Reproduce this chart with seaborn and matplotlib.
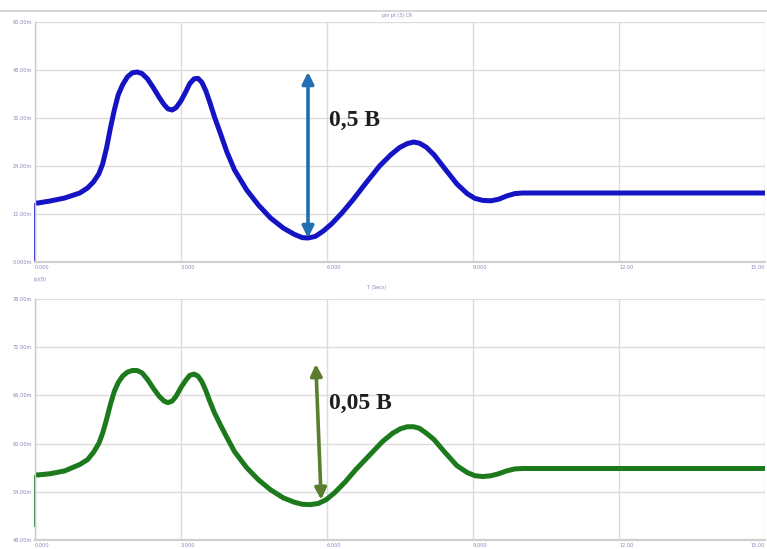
import numpy as np
import pandas as pd
import matplotlib
matplotlib.use("Agg")
import matplotlib.pyplot as plt
import seaborn as sns

# ---- data -------------------------------------------------------------
# upper trace: time (s) and level (m-units); first point is the start-up value
t_top = [0.0, 0.0, 0.06, 0.31, 0.61, 0.92, 1.08, 1.20, 1.31, 1.39, 1.47, 1.55,
         1.63, 1.71, 1.80, 1.90, 2.00, 2.10, 2.20, 2.31, 2.43, 2.55, 2.65, 2.73,
         2.82, 2.90, 3.00, 3.10, 3.18, 3.27, 3.35, 3.43, 3.51, 3.59, 3.69, 3.82,
         3.94, 4.10, 4.35, 4.59, 4.84, 5.10, 5.33, 5.49, 5.61, 5.76, 5.92, 6.10,
         6.31, 6.53, 6.80, 7.08, 7.31, 7.49, 7.65, 7.78, 7.90, 8.04, 8.20, 8.41,
         8.67, 8.88, 9.04, 9.20, 9.37, 9.53, 9.69, 9.86, 10.02, 15.0]
v_top = [0.0, 14.75, 14.75, 15.25, 16.0, 17.25, 18.5, 20.0, 22.0, 24.5, 28.5, 33.5,
         38.0, 41.8, 44.3, 46.3, 47.3, 47.5, 47.1, 45.8, 43.6, 41.2, 39.4, 38.3,
         38.0, 38.6, 40.3, 42.6, 44.6, 45.8, 45.9, 44.9, 42.8, 40.0, 36.2, 31.8,
         27.6, 23.0, 18.0, 14.25, 11.0, 8.5, 6.9, 6.1, 6.0, 6.4, 7.7, 9.6,
         12.3, 15.5, 19.75, 24.0, 26.8, 28.6, 29.6, 30.0, 29.7, 28.7, 26.8, 23.5,
         19.5, 17.1, 15.9, 15.4, 15.3, 15.7, 16.5, 17.1, 17.25, 17.25]

# lower trace
t_bot = [0.0, 0.0, 0.06, 0.31, 0.61, 0.92, 1.08, 1.20, 1.31, 1.39, 1.47, 1.55,
         1.63, 1.71, 1.80, 1.90, 2.00, 2.10, 2.20, 2.31, 2.43, 2.55, 2.65, 2.73,
         2.82, 2.90, 3.00, 3.10, 3.18, 3.27, 3.35, 3.43, 3.51, 3.59, 3.69, 3.82,
         3.94, 4.10, 4.35, 4.59, 4.84, 5.10, 5.33, 5.49, 5.65, 5.82, 5.98, 6.16,
         6.37, 6.59, 6.88, 7.14, 7.35, 7.51, 7.65, 7.78, 7.90, 8.04, 8.20, 8.41,
         8.67, 8.88, 9.04, 9.20, 9.37, 9.53, 9.69, 9.86, 10.02, 15.0]
v_bot = [49.6, 56.1, 56.1, 56.25, 56.6, 57.4, 58.0, 58.9, 60.0, 61.3, 63.0, 64.9,
         66.5, 67.6, 68.4, 68.9, 69.1, 69.1, 68.8, 68.0, 66.9, 65.9, 65.3, 65.1,
         65.3, 65.9, 67.0, 67.9, 68.5, 68.65, 68.4, 67.7, 66.6, 65.3, 63.8, 62.2,
         60.8, 59.0, 57.0, 55.5, 54.25, 53.25, 52.7, 52.45, 52.4, 52.55, 53.0, 53.9,
         55.2, 56.75, 58.6, 60.25, 61.3, 61.85, 62.1, 62.1, 61.9, 61.3, 60.5, 59.0,
         57.25, 56.4, 56.0, 55.9, 56.0, 56.25, 56.6, 56.85, 56.9, 56.9]

x_ticks = [0, 3, 6, 9, 12, 15]
x_tick_labels = ["0.000", "3.000", "6.000", "9.000", "12.00", "15.00"]
y_ticks_top = [0, 12, 24, 36, 48, 60]
y_labels_top = ["0.000m", "12.00m", "24.00m", "36.00m", "48.00m", "60.00m"]
y_ticks_bot = [48, 54, 60, 66, 72, 78]
y_labels_bot = ["48.00m", "54.00m", "60.00m", "66.00m", "72.00m", "78.00m"]

# swing markers: (t_start, v_start, t_end, v_end) and label
swing_top = (5.61, 47.5, 5.61, 6.0)
swing_top_label = "0,5 В"
swing_bot = (5.77, 69.9, 5.88, 53.0)
swing_bot_label = "0,05 В"

# ---- figure -----------------------------------------------------------
sns.set_style("white")
W, H = 767, 549
fig = plt.figure(figsize=(W / 100, H / 100), dpi=100)
fig.patch.set_facecolor("white")

def px_axes(x0, y0, x1, y1):
    return fig.add_axes([x0 / W, 1 - y1 / H, (x1 - x0) / W, (y1 - y0) / H])

ax1 = px_axes(35, 22, 765, 262)
ax2 = px_axes(35, 299, 765, 540)

tick_col = "#8a86b8"
grid_col = "#dcdcdc"

def style(ax, yt, yl, ylim):
    ax.set_xlim(0, 15)
    ax.set_ylim(*ylim)
    ax.set_xticks(x_ticks)
    ax.set_xticklabels(x_tick_labels)
    ax.set_yticks(yt)
    ax.set_yticklabels(yl)
    ax.grid(True, color=grid_col, lw=1.0)
    ax.tick_params(axis="both", length=0, labelsize=3.6, colors=tick_col, pad=2)
    labels = ax.get_xticklabels()
    for lbl in labels:
        lbl.set_horizontalalignment("left")
    labels[-1].set_horizontalalignment("right")
    for s in ["top", "right"]:
        ax.spines[s].set_visible(False)
    ax.spines["bottom"].set_color("#cfcfcf")
    ax.spines["bottom"].set_linewidth(1.6)
    ax.spines["left"].set_color("#c8c8d8")
    ax.spines["left"].set_linewidth(1.0)
    ax.set_xlabel("")
    ax.set_ylabel("")

def trace(ax, t, v, color):
    df = pd.DataFrame({"t": t[1:], "v": v[1:]})
    sns.lineplot(data=df, x="t", y="v", ax=ax, estimator=None, sort=False,
                 color=color, lw=3.6, solid_capstyle="round",
                 solid_joinstyle="round")
    # thin start-up edge from the initial value
    ax.vlines(t[0], min(v[0], v[1]), max(v[0], v[1]), color=color, lw=1.3,
              clip_on=False)

trace(ax1, t_top, v_top, "#1414c4")
trace(ax2, t_bot, v_bot, "#1c7a1c")

style(ax1, y_ticks_top, y_labels_top, (0, 60))
style(ax2, y_ticks_bot, y_labels_bot, (48, 78))

# swing arrows with labels
def swing(ax, seg, label, color, text_xy):
    t0, v0, t1, v1 = seg
    ax.annotate("", xy=(t0, v0), xytext=(t1, v1),
                arrowprops=dict(arrowstyle="<|-|>", color=color, lw=2.6,
                                mutation_scale=17, shrinkA=0, shrinkB=0))
    ax.text(text_xy[0], text_xy[1], label, fontsize=17, fontweight="bold",
            family="Liberation Serif", color="#1e1e1e", va="center", ha="left")

swing(ax1, swing_top, swing_top_label, "#1f6fb2", (6.05, 35.5))
swing(ax2, swing_bot, swing_bot_label, "#5a7d2e", (6.05, 65.0))

# header rule and small captions
fig.add_artist(plt.Line2D([0, 1], [1 - 11 / H, 1 - 11 / H], color="#d0d0d0", lw=1.2))
fig.text(382 / W, 1 - 16 / H, "pin pt (3) CR", fontsize=3.4, color=tick_col, va="center")
fig.text(367 / W, 1 - 288 / H, "T (Secs)", fontsize=3.4, color=tick_col, va="center")
fig.text(34 / W, 1 - 280 / H, "(s)(8)", fontsize=3.4, color=tick_col, va="center")

fig.savefig("out.png", dpi=100, facecolor="white")
